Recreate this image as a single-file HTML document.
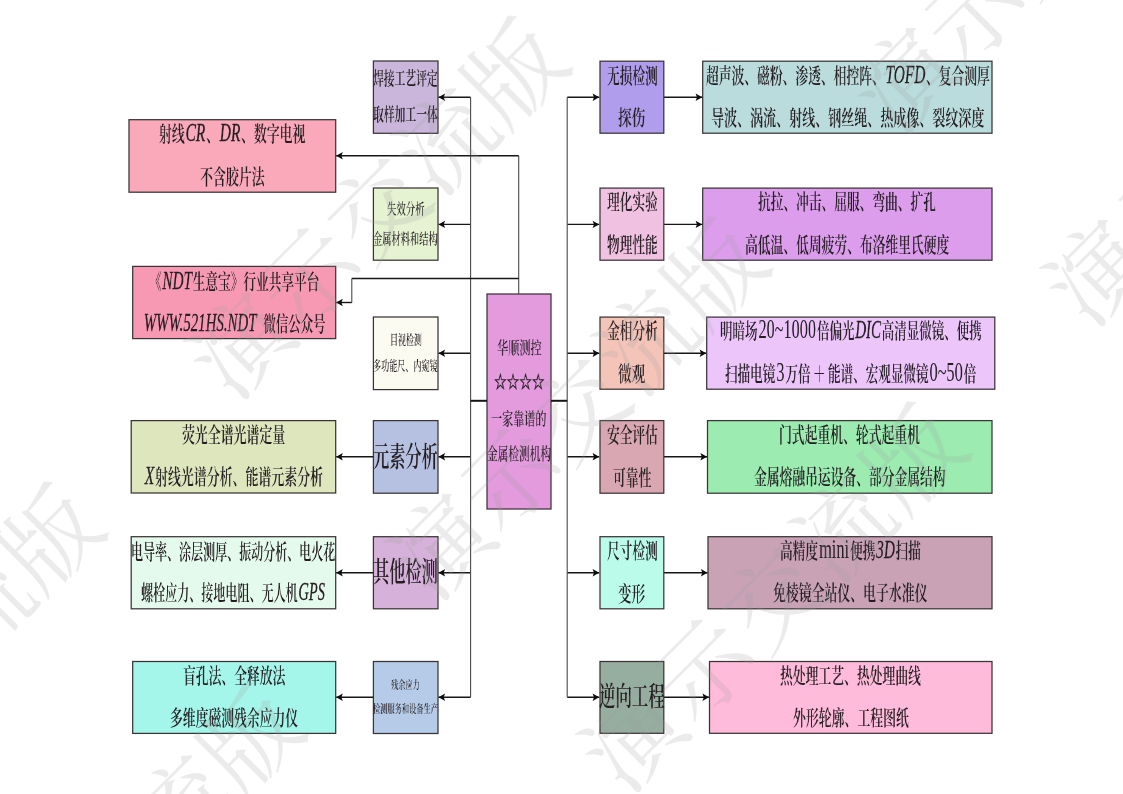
<!DOCTYPE html>
<html lang="zh"><head><meta charset="utf-8"><title>华顺测控</title>
<style>
html,body{margin:0;padding:0;background:#fff}
#pg{position:relative;width:1123px;height:794px;overflow:hidden;background:#fff;font-family:"Liberation Serif","Noto Serif CJK SC",serif;color:#241e22;font-weight:600;filter:blur(.45px)}
#pg svg{position:absolute;left:0;top:0}
.t{position:absolute;white-space:nowrap;line-height:1;transform-origin:0 0;letter-spacing:0;will-change:transform}
.t i{font-style:italic;font-weight:400;-webkit-text-stroke:.3px #241e22;font-size:1.2em;line-height:0;margin:0 .05em}
.t b{font-weight:400;font-size:1.3em;line-height:0;margin:0 .06em}
</style></head><body>
<div id="pg">
<svg width="1123" height="794" viewBox="0 0 1123 794">
<g stroke="#3a3436" stroke-width="1.25">
<rect x="129.0" y="119.7" width="206.7" height="72.5" fill="#f9a9b9"/>
<rect x="132.7" y="266.4" width="203.0" height="72.2" fill="#f899b4"/>
<rect x="131.2" y="420.6" width="204.5" height="72.4" fill="#dde6bd"/>
<rect x="131.2" y="536.7" width="204.5" height="72.1" fill="#e4faec"/>
<rect x="132.7" y="661.5" width="203.0" height="71.9" fill="#a4f5ea"/>
<rect x="373.4" y="61.0" width="64.6" height="72.3" fill="#c9b6da"/>
<rect x="373.4" y="188.0" width="64.6" height="72.2" fill="#e6f3d2"/>
<rect x="373.4" y="317.0" width="64.6" height="72.6" fill="#fcfbf2"/>
<rect x="373.4" y="420.6" width="64.6" height="72.6" fill="#b6c0e1"/>
<rect x="373.4" y="536.7" width="64.6" height="72.1" fill="#d6b1d9"/>
<rect x="373.4" y="661.5" width="64.6" height="72.0" fill="#b6cbe7"/>
<rect x="487.0" y="294.0" width="64.0" height="215.0" fill="#e39bde"/>
<rect x="600.0" y="61.2" width="63.8" height="72.0" fill="#b09dec"/>
<rect x="600.0" y="188.1" width="63.8" height="72.1" fill="#f0c1e1"/>
<rect x="600.0" y="317.1" width="63.8" height="72.1" fill="#f5c4b9"/>
<rect x="600.0" y="420.6" width="63.8" height="72.6" fill="#d9a7b1"/>
<rect x="600.0" y="536.7" width="63.8" height="72.1" fill="#bbfbea"/>
<rect x="600.0" y="661.5" width="63.8" height="71.8" fill="#96ae9f"/>
<rect x="702.7" y="61.2" width="289.3" height="72.0" fill="#badcdc"/>
<rect x="702.7" y="188.1" width="289.3" height="72.1" fill="#dc9dec"/>
<rect x="706.7" y="317.1" width="288.1" height="72.1" fill="#ecc5fb"/>
<rect x="707.5" y="420.6" width="284.5" height="72.6" fill="#9cebb1"/>
<rect x="708.0" y="536.7" width="284.0" height="72.1" fill="#c9a2b6"/>
<rect x="709.5" y="661.5" width="282.5" height="71.8" fill="#ffbbd9"/>
</g>
<g fill="none">
<path d="M470.6 97.2L438.5 97.2" stroke="#161616" stroke-width="1.4"/>
<path d="M567.2 97.2L599.2 97.2" stroke="#161616" stroke-width="1.4"/>
<path d="M470.6 224.4L438.5 224.4" stroke="#161616" stroke-width="1.4"/>
<path d="M567.2 224.4L599.2 224.4" stroke="#161616" stroke-width="1.4"/>
<path d="M470.6 353.3L438.5 353.3" stroke="#161616" stroke-width="1.4"/>
<path d="M567.2 353.3L599.2 353.3" stroke="#161616" stroke-width="1.4"/>
<path d="M470.6 456.7L438.5 456.7" stroke="#161616" stroke-width="1.4"/>
<path d="M567.2 456.7L599.2 456.7" stroke="#161616" stroke-width="1.4"/>
<path d="M470.6 572.8L438.5 572.8" stroke="#161616" stroke-width="1.4"/>
<path d="M567.2 572.8L599.2 572.8" stroke="#161616" stroke-width="1.4"/>
<path d="M470.6 697.2L438.5 697.2" stroke="#161616" stroke-width="1.4"/>
<path d="M567.2 697.2L599.2 697.2" stroke="#161616" stroke-width="1.4"/>
<path d="M470.6 97.2L470.6 697.2" stroke="#4a4a4a" stroke-width="1.1"/>
<path d="M567.2 97.2L567.2 697.2" stroke="#4a4a4a" stroke-width="1.1"/>
<path d="M470.6 400.8L487.0 400.8" stroke="#161616" stroke-width="2.0"/>
<path d="M551.0 400.8L567.2 400.8" stroke="#161616" stroke-width="2.0"/>
<path d="M373.4 456.7L336.2 456.7" stroke="#161616" stroke-width="1.4"/>
<path d="M373.4 572.8L336.2 572.8" stroke="#161616" stroke-width="1.4"/>
<path d="M373.4 697.2L336.2 697.2" stroke="#161616" stroke-width="1.4"/>
<path d="M518.7 294.0L518.7 155.8" stroke="#4a4a4a" stroke-width="1.1"/>
<path d="M518.7 155.8L336.2 155.8" stroke="#161616" stroke-width="1.4"/>
<path d="M518.7 278.5L351.8 278.5" stroke="#161616" stroke-width="1.4"/>
<path d="M351.8 278.5L351.8 302.5" stroke="#4a4a4a" stroke-width="1.1"/>
<path d="M351.8 302.5L336.2 302.5" stroke="#161616" stroke-width="1.4"/>
<path d="M664.1 97.2L702.2 97.2" stroke="#161616" stroke-width="1.4"/>
<path d="M664.1 224.4L702.2 224.4" stroke="#161616" stroke-width="1.4"/>
<path d="M664.1 353.3L706.2 353.3" stroke="#161616" stroke-width="1.4"/>
<path d="M664.1 456.7L707.0 456.7" stroke="#161616" stroke-width="1.4"/>
<path d="M664.1 572.8L707.5 572.8" stroke="#161616" stroke-width="1.4"/>
<path d="M664.1 697.2L709.0 697.2" stroke="#161616" stroke-width="1.4"/>
</g>
<g fill="#0c0c0c">
<path d="M438.5 97.2L445.1 93.5L443.7 97.2L445.1 100.9Z"/>
<path d="M599.2 97.2L592.6 93.5L594.0 97.2L592.6 100.9Z"/>
<path d="M438.5 224.4L445.1 220.7L443.7 224.4L445.1 228.1Z"/>
<path d="M599.2 224.4L592.6 220.7L594.0 224.4L592.6 228.1Z"/>
<path d="M438.5 353.3L445.1 349.6L443.7 353.3L445.1 357.0Z"/>
<path d="M599.2 353.3L592.6 349.6L594.0 353.3L592.6 357.0Z"/>
<path d="M438.5 456.7L445.1 453.0L443.7 456.7L445.1 460.4Z"/>
<path d="M599.2 456.7L592.6 453.0L594.0 456.7L592.6 460.4Z"/>
<path d="M438.5 572.8L445.1 569.1L443.7 572.8L445.1 576.5Z"/>
<path d="M599.2 572.8L592.6 569.1L594.0 572.8L592.6 576.5Z"/>
<path d="M438.5 697.2L445.1 693.5L443.7 697.2L445.1 700.9Z"/>
<path d="M599.2 697.2L592.6 693.5L594.0 697.2L592.6 700.9Z"/>
<path d="M336.2 456.7L342.8 453.0L341.4 456.7L342.8 460.4Z"/>
<path d="M336.2 572.8L342.8 569.1L341.4 572.8L342.8 576.5Z"/>
<path d="M336.2 697.2L342.8 693.5L341.4 697.2L342.8 700.9Z"/>
<path d="M336.2 155.8L342.8 152.1L341.4 155.8L342.8 159.5Z"/>
<path d="M336.2 302.5L342.8 298.8L341.4 302.5L342.8 306.2Z"/>
<path d="M702.2 97.2L695.6 93.5L697.0 97.2L695.6 100.9Z"/>
<path d="M702.2 224.4L695.6 220.7L697.0 224.4L695.6 228.1Z"/>
<path d="M706.2 353.3L699.6 349.6L701.0 353.3L699.6 357.0Z"/>
<path d="M707.0 456.7L700.4 453.0L701.8 456.7L700.4 460.4Z"/>
<path d="M707.5 572.8L700.9 569.1L702.3 572.8L700.9 576.5Z"/>
<path d="M709.0 697.2L702.4 693.5L703.8 697.2L702.4 700.9Z"/>
</g></svg>
<div class="t" style="left:159.2px;top:124.3px;font-size:21.0px;transform:scaleX(0.613)">射线<i>CR</i>、<i>DR</i>、数字电视</div>
<div class="t" style="left:200.0px;top:166.7px;font-size:21.0px;transform:scaleX(0.616)">不含胶片法</div>
<div class="t" style="left:149.1px;top:271.9px;font-size:21.0px;transform:scaleX(0.603)">《<i>NDT</i>生意宝》行业共享平台</div>
<div class="t" style="left:142.9px;top:314.2px;font-size:21.0px;transform:scaleX(0.591)"><i>WWW.521HS.NDT</i>&nbsp;&nbsp;微信公众号</div>
<div class="t" style="left:181.8px;top:424.9px;font-size:21.0px;transform:scaleX(0.614)">荧光全谱光谱定量</div>
<div class="t" style="left:144.0px;top:467.4px;font-size:21.0px;transform:scaleX(0.615)"><i>X</i>射线光谱分析、能谱元素分析</div>
<div class="t" style="left:131.3px;top:541.7px;font-size:21.0px;transform:scaleX(0.572)">电导率、涂层测厚、振动分析、电火花</div>
<div class="t" style="left:141.1px;top:583.2px;font-size:21.0px;transform:scaleX(0.574)">螺栓应力、接地电阻、无人机<i>GPS</i></div>
<div class="t" style="left:183.0px;top:665.7px;font-size:21.0px;transform:scaleX(0.609)">盲孔法、全释放法</div>
<div class="t" style="left:170.1px;top:708.2px;font-size:21.0px;transform:scaleX(0.610)">多维度磁测残余应力仪</div>
<div class="t" style="left:373.3px;top:70.2px;font-size:18.5px;transform:scaleX(0.583)">焊接工艺评定</div>
<div class="t" style="left:373.3px;top:105.8px;font-size:18.5px;transform:scaleX(0.583)">取样加工一体</div>
<div class="t" style="left:386.9px;top:202.3px;font-size:14.5px;font-weight:500;transform:scaleX(0.647)">失效分析</div>
<div class="t" style="left:373.3px;top:232.3px;font-size:14.5px;font-weight:500;transform:scaleX(0.637)">金属材料和结构</div>
<div class="t" style="left:389.8px;top:333.1px;font-size:13.0px;font-weight:500;transform:scaleX(0.613)">目视检测</div>
<div class="t" style="left:373.3px;top:359.4px;font-size:13.0px;font-weight:500;transform:scaleX(0.622)">多功能尺、内窥镜</div>
<div class="t" style="left:373.3px;top:443.7px;font-size:28.0px;transform:scaleX(0.578)">元素分析</div>
<div class="t" style="left:373.3px;top:559.3px;font-size:28.0px;transform:scaleX(0.578)">其他检测</div>
<div class="t" style="left:391.3px;top:680.2px;font-size:11.5px;font-weight:500;transform:scaleX(0.624)">残余应力</div>
<div class="t" style="left:373.2px;top:704.0px;font-size:11.5px;font-weight:500;transform:scaleX(0.628)">检测服务和设备生产</div>
<div class="t" style="left:496.6px;top:339.8px;font-size:17.0px;font-weight:500;transform:scaleX(0.657)">华顺测控</div>
<div class="t" style="left:493.8px;top:374.3px;font-size:17.0px;font-weight:500;transform:scaleX(0.743)"><span style="-webkit-text-stroke:.45px #241e22">☆☆☆☆</span></div>
<div class="t" style="left:491.3px;top:411.3px;font-size:17.0px;font-weight:500;transform:scaleX(0.652)">一家靠谱的</div>
<div class="t" style="left:486.9px;top:446.4px;font-size:17.0px;font-weight:500;transform:scaleX(0.629)">金属检测机构</div>
<div class="t" style="left:606.5px;top:66.0px;font-size:21.0px;transform:scaleX(0.604)">无损检测</div>
<div class="t" style="left:618.3px;top:108.2px;font-size:21.0px;transform:scaleX(0.648)">探伤</div>
<div class="t" style="left:606.5px;top:192.1px;font-size:21.0px;transform:scaleX(0.604)">理化实验</div>
<div class="t" style="left:606.5px;top:235.1px;font-size:21.0px;transform:scaleX(0.604)">物理性能</div>
<div class="t" style="left:606.5px;top:321.1px;font-size:21.0px;transform:scaleX(0.604)">金相分析</div>
<div class="t" style="left:618.3px;top:364.1px;font-size:21.0px;transform:scaleX(0.648)">微观</div>
<div class="t" style="left:606.5px;top:424.6px;font-size:21.0px;transform:scaleX(0.604)">安全评估</div>
<div class="t" style="left:612.7px;top:467.6px;font-size:21.0px;transform:scaleX(0.610)">可靠性</div>
<div class="t" style="left:606.5px;top:540.7px;font-size:21.0px;transform:scaleX(0.604)">尺寸检测</div>
<div class="t" style="left:618.3px;top:583.7px;font-size:21.0px;transform:scaleX(0.648)">变形</div>
<div class="t" style="left:599.0px;top:684.0px;font-size:27.0px;transform:scaleX(0.608)">逆向工程</div>
<div class="t" style="left:705.6px;top:65.7px;font-size:21.0px;transform:scaleX(0.608)">超声波、磁粉、渗透、相控阵、<i>TOFD</i>、复合测厚</div>
<div class="t" style="left:710.8px;top:107.7px;font-size:21.0px;transform:scaleX(0.620)">导波、涡流、射线、钢丝绳、热成像、裂纹深度</div>
<div class="t" style="left:758.4px;top:192.1px;font-size:21.0px;transform:scaleX(0.605)">抗拉、冲击、屈服、弯曲、扩孔</div>
<div class="t" style="left:745.2px;top:234.6px;font-size:21.0px;transform:scaleX(0.608)">高低温、低周疲劳、布洛维里氏硬度</div>
<div class="t" style="left:719.9px;top:321.1px;font-size:21.0px;transform:scaleX(0.595)">明暗场<b>20~1000</b>倍偏光<i>DIC</i>高清显微镜、便携</div>
<div class="t" style="left:725.0px;top:363.6px;font-size:21.0px;transform:scaleX(0.598)">扫描电镜<b>3</b>万倍&thinsp;＋&thinsp;能谱、宏观显微镜<b>0~50</b>倍</div>
<div class="t" style="left:779.4px;top:424.6px;font-size:21.0px;transform:scaleX(0.610)">门式起重机、轮式起重机</div>
<div class="t" style="left:754.0px;top:467.1px;font-size:21.0px;transform:scaleX(0.608)">金属熔融吊运设备、部分金属结构</div>
<div class="t" style="left:779.6px;top:540.7px;font-size:21.0px;transform:scaleX(0.603)">高精度<b>mini</b>便携<i>3D</i>扫描</div>
<div class="t" style="left:772.8px;top:583.2px;font-size:21.0px;transform:scaleX(0.613)">免棱镜全站仪、电子水准仪</div>
<div class="t" style="left:780.4px;top:665.5px;font-size:21.0px;transform:scaleX(0.610)">热处理工艺、热处理曲线</div>
<div class="t" style="left:792.8px;top:708.0px;font-size:21.0px;transform:scaleX(0.613)">外形轮廓、工程图纸</div>
<svg width="1123" height="794" viewBox="0 0 1123 794"><g fill="#a0a0a0" opacity=".21" font-family="'Liberation Serif','Noto Serif CJK SC',serif" font-size="96" font-weight="400" text-anchor="middle">
<text transform="translate(242.0 346.0) rotate(-45.0)" x="0" y="34">演</text>
<text transform="translate(310.2 277.8) rotate(-45.0)" x="0" y="34">示</text>
<text transform="translate(378.4 209.6) rotate(-45.0)" x="0" y="34">交</text>
<text transform="translate(446.6 141.4) rotate(-45.0)" x="0" y="34">流</text>
<text transform="translate(514.8 73.2) rotate(-45.0)" x="0" y="34">版</text>
<text transform="translate(-17.4 607.4) rotate(-45.0)" x="0" y="34">流</text>
<text transform="translate(50.8 539.2) rotate(-45.0)" x="0" y="34">版</text>
<text transform="translate(442.0 547.0) rotate(-45.0)" x="0" y="34">演</text>
<text transform="translate(510.2 478.8) rotate(-45.0)" x="0" y="34">示</text>
<text transform="translate(578.4 410.6) rotate(-45.0)" x="0" y="34">交</text>
<text transform="translate(646.6 342.4) rotate(-45.0)" x="0" y="34">流</text>
<text transform="translate(714.8 274.2) rotate(-45.0)" x="0" y="34">版</text>
<text transform="translate(182.6 808.4) rotate(-45.0)" x="0" y="34">流</text>
<text transform="translate(250.8 740.2) rotate(-45.0)" x="0" y="34">版</text>
<text transform="translate(906.0 81.0) rotate(-45.0)" x="0" y="34">演</text>
<text transform="translate(974.2 12.8) rotate(-45.0)" x="0" y="34">示</text>
<text transform="translate(1042.4 -55.4) rotate(-45.0)" x="0" y="34">交</text>
<text transform="translate(634.0 739.0) rotate(-45.0)" x="0" y="34">演</text>
<text transform="translate(704.0 669.0) rotate(-45.0)" x="0" y="34">示</text>
<text transform="translate(774.0 599.0) rotate(-45.0)" x="0" y="34">交</text>
<text transform="translate(844.0 529.0) rotate(-45.0)" x="0" y="34">流</text>
<text transform="translate(914.0 459.0) rotate(-45.0)" x="0" y="34">版</text>
<text transform="translate(1098.0 273.0) rotate(-45.0)" x="0" y="34">演</text>
<text transform="translate(1168.0 203.0) rotate(-45.0)" x="0" y="34">示</text>
</g></svg>
</div>
</body></html>
